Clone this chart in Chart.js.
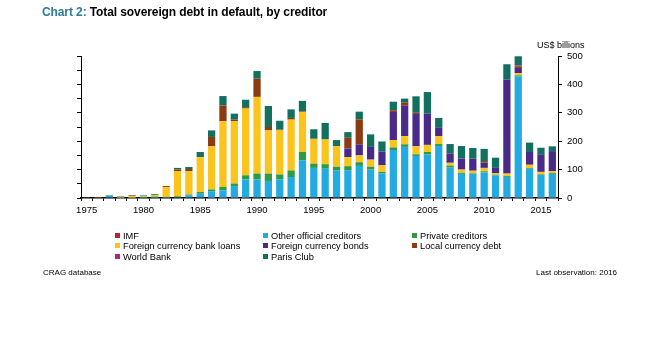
<!DOCTYPE html>
<html>
<head>
<meta charset="utf-8">
<script src="https://cdn.jsdelivr.net/npm/chart.js@4.4.1/dist/chart.umd.min.js"></script>
<style>
  html, body { margin: 0; padding: 0; background: #fff; }
  body { width: 662px; height: 355px; position: relative; overflow: hidden; font-family: "Liberation Sans", Arial, sans-serif; }
  #c { position: absolute; left: 0; top: 0; }
  .title { position: absolute; left: 42px; top: 5px; font-size: 12px; font-weight: bold; color: #000; white-space: nowrap; letter-spacing: -0.1px; }
  .title .num { color: #2B7C98; }
  .unit { position: absolute; left: 537px; top: 40px; font-size: 9px; color: #000; white-space: nowrap; }
  .legend { position: absolute; left: 0; top: 0; }
  .li { position: absolute; font-size: 9.3px; color: #000; white-space: nowrap; line-height: 10px; }
  .li i { display: inline-block; width: 5px; height: 5px; margin-right: 3px; vertical-align: 1px; }
  .foot { position: absolute; top: 268px; font-size: 8px; color: #000; white-space: nowrap; font-family: "Liberation Sans Narrow", "Liberation Sans", Arial, sans-serif; }
</style>
</head>
<body>
<canvas id="c" width="662" height="355"></canvas>
<div class="title"><span class="num">Chart 2:</span> Total sovereign debt in default, by creditor</div>
<div class="unit">US$ billions</div>
<div class="legend" id="legend"></div>
<div class="foot" style="left:43px;">CRAG database</div>
<div class="foot" style="right:45px;">Last observation: 2016</div>
<script>
// ---- Data (US$ billions), years 1975..2016 ----
const years = ['1975','1976','1977','1978','1979','1980','1981','1982','1983','1984',
               '1985','1986','1987','1988','1989','1990','1991','1992','1993','1994',
               '1995','1996','1997','1998','1999','2000','2001','2002','2003','2004',
               '2005','2006','2007','2008','2009','2010','2011','2012','2013','2014',
               '2015','2016'];
const xTickLabels = ['1975','1980','1985','1990','1995','2000','2005','2010','2015'];
const yTicks = [0, 50, 100, 150, 200, 250, 300, 350, 400, 450, 500];

const imf          = [0,0,0,0,0,0,0,0,0,0, 0,1,1,1,1,2,2,2,2,2, 2,2,2,2,2,2,2,2,2,1, 1,1,1,1,1,1,1,1,1,1, 1,1];
const otherOfficial= [0,0,7,0,0,1,1,1,0,10, 15,23,26,41,64,63,58,64,72,131, 104,101,96,96,111,98,84,167,178,147, 152,182,106,84,84,89,78,73,427,102, 80,84];
const privateCred  = [0,0,0,1,1,3,4,2,6,2, 6,6,12,9,15,21,26,17,23,29, 15,16,12,14,13,10,6,9,9,6, 9,7,7,4,2,4,3,3,4,3, 2,3];
const fcBankLoans  = [1,1,0,3,6,3,6,35,89,83, 123,152,231,219,235,270,152,155,179,141, 87,87,73,32,24,25,23,26,29,28, 25,28,10,11,9,12,6,9,8,11, 9,7];
const fcBonds      = [0,0,0,0,0,0,0,0,0,0, 0,0,0,0,0,0,0,0,0,0, 0,0,0,30,39,45,49,99,108,114, 110,29,33,39,43,19,18,331,18,45, 62,70];
const localCurrency= [0,1,0,0,2,0,0,4,5,7, 0,33,56,6,5,64,12,3,6,2, 1,0,0,38,88,0,0,6,11,4, 0,0,0,0,0,5,0,0,6,0, 0,0];
const worldBank    = [0,0,0,0,0,0,0,0,0,0, 0,0,0,0,0,0,0,0,0,0, 0,0,0,0,0,0,0,0,0,0, 0,0,0,0,0,0,0,0,2,0, 0,0];
const parisClub    = [0,0,2,2,1,2,3,0,6,7, 18,23,33,21,26,27,74,31,30,37, 33,58,21,20,27,44,35,30,13,58, 76,35,33,44,37,43,36,54,33,33, 23,17];

const seriesNames  = ['IMF','Other official creditors','Private creditors','Foreign currency bank loans',
                      'Foreign currency bonds','Local currency debt','World Bank','Paris Club'];
const seriesData   = [imf, otherOfficial, privateCred, fcBankLoans, fcBonds, localCurrency, worldBank, parisClub];
const seriesColors = ['#B3243A','#23AAE1','#2E9A43','#FBC41D','#4A2A88','#8A3B12','#B0287C','#11705E'];

const datasets = seriesNames.map((n, i) => ({
  label: n,
  data: seriesData[i],
  backgroundColor: seriesColors[i],
  borderWidth: 0,
  yAxisID: 'y',
  categoryPercentage: 1.0,
  barPercentage: 0.64
}));

// HTML legend (3 columns, row-major)
const legendEl = document.getElementById('legend');
const colX = [115, 263, 412];
const rowY = [230.5, 241.2, 251.9];
seriesNames.forEach((n, i) => {
  const d = document.createElement('div');
  d.className = 'li';
  d.style.left = colX[i % 3] + 'px';
  d.style.top = rowY[Math.floor(i / 3)] + 'px';
  d.innerHTML = '<i style="background:' + seriesColors[i] + '"></i>' + n;
  legendEl.appendChild(d);
});

const FONT = '"Liberation Sans", Arial, sans-serif';
new Chart(document.getElementById('c'), {
  type: 'bar',
  data: { labels: years, datasets },
  options: {
    responsive: false,
    animation: false,
    devicePixelRatio: 1,
    layout: { padding: { left: 70, right: 40, top: 56, bottom: 135 } },
    plugins: { legend: { display: false }, tooltip: { enabled: false }, title: { display: false } },
    scales: {
      x: {
        stacked: true,
        offset: true,
        grid: { display: true, drawOnChartArea: false, drawTicks: true, tickLength: 3, color: '#000', offset: true },
        border: { display: true, color: '#000', width: 1.5 },
        ticks: {
          autoSkip: false, maxRotation: 0, minRotation: 0, color: '#000', padding: 4,
          font: { family: FONT, size: 9.5 },
          callback: function(v, i) { const l = years[i]; return xTickLabels.includes(l) ? l : ''; }
        },
        afterFit: s => { s.height = 22; }
      },
      y: {
        position: 'right',
        stacked: true,
        min: 0, max: 500,
        afterBuildTicks: s => { s.ticks = yTicks.map(v => ({ value: v })); },
        grid: { display: true, drawOnChartArea: false, drawTicks: true, tickLength: 4, color: '#000' },
        border: { display: true, color: '#000', width: 1 },
        ticks: { color: '#000', padding: 5, font: { family: FONT, size: 9.5 } },
        afterFit: s => { s.width = 64; }
      },
      y2: {
        position: 'left',
        min: 0, max: 500,
        afterBuildTicks: s => { s.ticks = yTicks.map(v => ({ value: v })); },
        grid: { display: true, drawOnChartArea: false, drawTicks: true, tickLength: 4, color: '#000' },
        border: { display: true, color: '#000', width: 1 },
        ticks: { display: false },
        afterFit: s => { s.width = 11; }
      }
    }
  }
});
</script>
</body>
</html>
